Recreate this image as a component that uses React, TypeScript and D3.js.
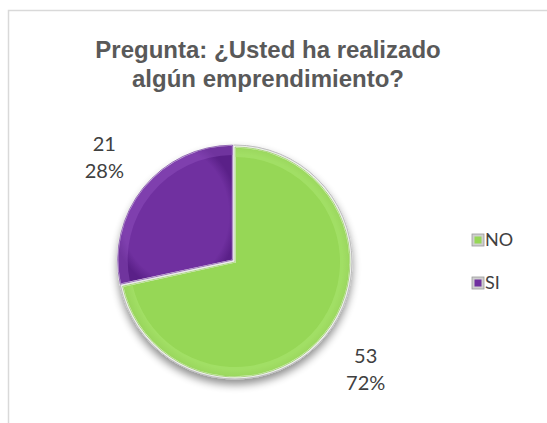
import React from 'react';
import * as d3 from 'd3';

const categories = ['NO', 'SI'];
const values = [53, 21];
const percentLabels = ['72%', '28%'];
const colors = ['#96D756', '#7030A0'];
const lightColors = ['#B8EE80', '#9A5CC8'];
const darkColors = ['#7AB83A', '#5A2088'];

const width = 547;
const height = 423;
const cx = 235;
const cy = 262;
const radius = 115;

const App = () => {
  const pie = d3
    .pie<number>()
    .sort(null)
    .value(d => d)
    .startAngle(0)
    .endAngle(2 * Math.PI);
  const arcs = pie(values);
  const arc = d3.arc<d3.PieArcDatum<number>>().innerRadius(0).outerRadius(radius);
  const bevel = d3.arc<d3.PieArcDatum<number>>().innerRadius(radius - 10).outerRadius(radius);
  const labelArc = d3.arc<d3.PieArcDatum<number>>().innerRadius(168).outerRadius(168);
  const explode = [0, 3];

  return (
    <svg width={width} height={height} style={{ position: 'absolute', left: 0, top: 0 }}>
      <defs>
        {colors.map((c, i) => (
          <radialGradient key={i} id={`grad${i}`} cx="0.5" cy="0.5" r="0.55">
            <stop offset="0" stopColor={c} />
            <stop offset="0.85" stopColor={c} />
            <stop offset="1" stopColor={darkColors[i]} />
          </radialGradient>
        ))}
        <filter id="shadow" x="-20%" y="-20%" width="140%" height="150%">
          <feGaussianBlur in="SourceAlpha" stdDeviation="4" />
          <feOffset dx="0" dy="5" result="b" />
          <feComponentTransfer>
            <feFuncA type="linear" slope="0.45" />
          </feComponentTransfer>
          <feMerge>
            <feMergeNode />
            <feMergeNode in="SourceGraphic" />
          </feMerge>
        </filter>
      </defs>
      <rect x={0} y={0} width={width} height={height} fill="#fff" />
      <rect x={8.5} y={10.5} width={width + 20} height={height + 20} fill="#fff" stroke="#d9d9d9" strokeWidth={1.5} />

      <text x={268} y={58} textAnchor="middle" fontFamily="Liberation Sans, Arial, sans-serif" fontWeight="bold" fontSize={24} fill="#595959">
        Pregunta: ¿Usted ha realizado
      </text>
      <text x={268} y={87} textAnchor="middle" fontFamily="Liberation Sans, Arial, sans-serif" fontWeight="bold" fontSize={24} fill="#595959">
        algún emprendimiento?
      </text>

      <g transform={`translate(${cx},${cy})`}>
        <circle r={radius + 2} fill="#e8e8e8" stroke="#bdbdbd" strokeWidth={1} filter="url(#shadow)" />
        {arcs.map((a, i) => {
          const mid = (a.startAngle + a.endAngle) / 2;
          const dx = Math.sin(mid) * explode[i];
          const dy = -Math.cos(mid) * explode[i];
          return (
            <g key={i} transform={`translate(${dx},${dy})`}>
              <path d={arc(a) || ''} fill={`url(#grad${i})`} stroke="#fff" strokeWidth={1.5} />
              <path d={bevel(a) || ''} fill={lightColors[i]} opacity={0.35} />
              <path d={arc(a) || ''} fill="none" stroke={darkColors[i]} strokeWidth={1} opacity={0.6} />
            </g>
          );
        })}
        {arcs.map((a, i) => {
          const [lx, ly] = labelArc.centroid(a);
          return (
            <g key={`l${i}`} fontFamily="Lato, Open Sans, sans-serif" fontSize={20} fill="#404040" textAnchor="middle">
              <text x={lx} y={ly - 5}>{values[i]}</text>
              <text x={lx} y={ly + 22}>{percentLabels[i]}</text>
            </g>
          );
        })}
      </g>

      {categories.map((c, i) => (
        <g key={c} transform={`translate(472,${234 + i * 43})`}>
          <rect width={12} height={12} fill="#cfcfcf" stroke="#999" strokeWidth={0.8} />
          <rect x={2.5} y={2.5} width={7} height={7} fill={colors[i]} />
          <text x={13} y={12} fontFamily="Lato, Open Sans, sans-serif" fontSize={18} fill="#404040">
            {c}
          </text>
        </g>
      ))}
    </svg>
  );
};

export default App;
